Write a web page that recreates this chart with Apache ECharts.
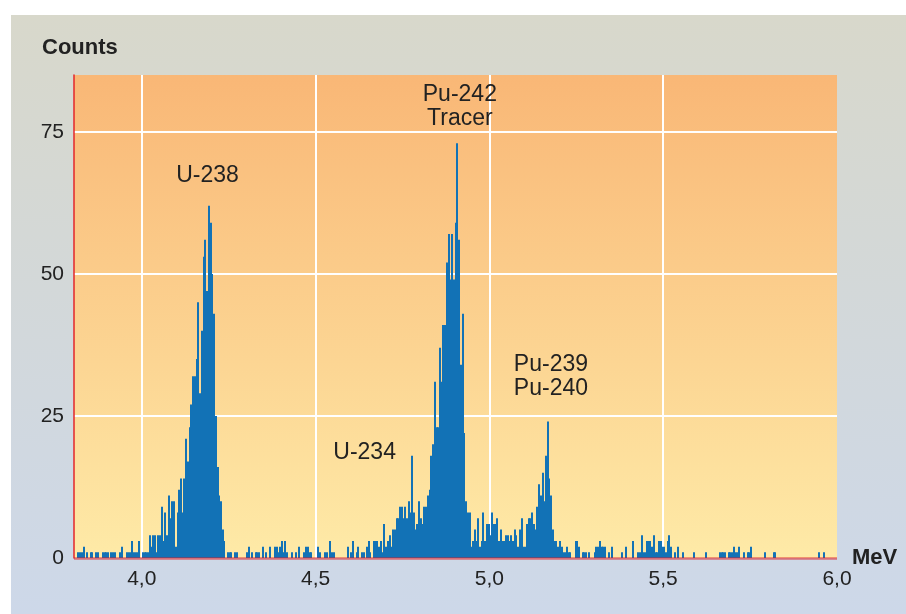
<!DOCTYPE html>
<html>
<head>
<meta charset="utf-8">
<script src="https://cdn.jsdelivr.net/npm/echarts@6/dist/echarts.min.js"></script>
<style>
  html, body { margin: 0; padding: 0; background: #ffffff; width: 906px; height: 614px; overflow: hidden; }
  #chart { position: absolute; left: 11px; top: 15px; width: 895px; height: 599px; }
</style>
</head>
<body>
<div id="chart"></div>
<script>
// ---- data ----
const binStart = 3.8;      // MeV, left edge of first channel
const binWidth = 0.005;    // MeV per channel
const counts = [
  // 3.800 - 4.000
  0,0,0,1,1,1,2,0,1,0, 1,1,0,1,1,0,0,1,1,1, 1,0,1,1,1,0,0,1,2,0, 0,1,1,1,3,1,1,1,3,0,
  // 4.000 - 4.275 (U-238)
  1,1,1,1,4,2,4,4,1,4, 4,9,3,8,4,11,7,10,10,2, 8,12,14,8,14,21,17,23,27,32,
  32,35,45,29,40,53,56,47,62,59, 50,43,25,16,11,10,5,3,0,1, 1,1,0,1,1,
  // 4.275 - 4.670
  0,0,0,0,0,1,2,0,1,0, 1,1,1,0,2,0,1,0,2,0, 0,2,2,1,2,3,1,3,1,0, 0,1,0,1,0,2,0,0,1,2,
  2,1,1,0,0,0,2,1,0,0, 1,1,0,3,1,1,0,0,0,0, 0,0,0,2,0,1,3,0,1,2, 0,1,1,0,2,3,1,0,3,
  // 4.670 - 5.000 (U-234, Pu-242)
  3,3,2,3,1,6,2,3,4,2, 5,5,7,7,9,9,7,9,7,10, 8,18,8,5,6,10,7,6,9,9,
  11,12,18,20,31,23,23,37,31,41, 41,52,57,49,57,49,59,73,56,34, 43,22,10,8,8,2,3,5,3,7,
  2,3,8,3,6,6,
  // 5.000 - 5.320 (Pu-239/240)
  4,8,6,6,7,3,5,3,3,4, 4,3,4,3,5,4,2,5,7,2, 2,6,7,7,8,6,5,9,13,11,
  15,10,18,24,14,11,5,3,3,2, 3,2,1,1,2,1,1,0,0,3, 3,2,0,1,1,1,0,1,0,0, 1,2,2,3,
  // 5.320 - 5.595
  2,2,2,0,1,0,2,0,0,0, 0,0,1,0,2,0,0,0,3,0, 0,1,1,4,1,1,3,3,3,2,
  4,1,1,3,3,2,2,1,3,4, 2,0,1,0,2,0,0,1,0,0, 0,0,0,1,0,
  // 5.595 - 6.000
  0,0,0,0,0, 1, 0,0,0,0,0,0,0,
  1,1,1,1,0,1,1,1,2,1,1,2,0,0,1,0,1,1,2,
  0,0,0,0,0,0,0, 1, 0,0,0,0, 1,1,
  0,0,0,0,0,0,0,0,0,0,0,0,0,0,0,0,0,0,0,0,0,0,0,0,
  1, 0,0, 1, 0,0,0,0,0,0,0
];

const xMin = 3.805, xMax = 6.0;
const yMin = 0, yMax = 85, yStep = 25;

const peakNames = ['U-238', 'Pu-242\nTracer', 'Pu-239\nPu-240', 'U-234'];
const peakX     = [4.189, 4.915, 5.177, 4.641];
const peakY     = [67.2, 79.5, 31.9, 18.6];

// ---- build ----
const BAR = '#1272b6';
const histData = counts.map((c, i) => [+(binStart + binWidth * (i + 0.5)).toFixed(4), c]);
const labelData = peakNames.map((t, i) => [peakX[i], peakY[i], t]);

const FONT = "'Liberation Sans', Arial, Helvetica, sans-serif";
const chart = echarts.init(document.getElementById('chart'), null, { renderer: 'canvas' });

function renderBin(params, api) {
  const x = api.value(0), c = api.value(1);
  if (!c) return null;
  const top = api.coord([x - binWidth / 2, c]);
  const bot = api.coord([x + binWidth / 2, 0]);
  const x0 = Math.round(top[0]), x1 = Math.round(bot[0]);
  const cs = params.coordSys;
  const left = Math.max(x0, cs.x);
  const right = Math.min(Math.max(x1, x0 + 2), cs.x + cs.width);
  if (right <= left) return null;
  return {
    type: 'rect',
    shape: { x: left, y: top[1], width: right - left, height: bot[1] - top[1] },
    style: { fill: BAR }
  };
}

chart.setOption({
  animation: false,
  backgroundColor: new echarts.graphic.LinearGradient(0, 0, 0, 1, [
    { offset: 0, color: '#d8d8cb' },
    { offset: 1, color: '#cdd8e9' }
  ]),
  grid: {
    left: 63, right: 69, top: 60, bottom: 56,
    containLabel: false,
    outerBoundsMode: 'none',
    show: true,
    borderWidth: 0,
    backgroundColor: new echarts.graphic.LinearGradient(0, 0, 0, 1, [
      { offset: 0, color: '#f9b776' },
      { offset: 1, color: '#feeaa7' }
    ])
  },
  xAxis: {
    type: 'value',
    min: xMin, max: xMax,
    name: 'MeV',
    nameLocation: 'end',
    nameGap: 15,
    nameTextStyle: { fontFamily: FONT, fontSize: 22, fontWeight: 'bold', color: '#222', verticalAlign: 'middle' },
    axisLine: { show: false },
    axisTick: { show: false },
    axisLabel: {
      fontFamily: FONT, fontSize: 21, color: '#222', margin: 11,
      formatter: v => (Math.abs(v * 2 - Math.round(v * 2)) < 1e-6 ? v.toFixed(1).replace('.', ',') : '')
    },
    splitLine: { show: true, showMinLine: false, showMaxLine: false, lineStyle: { color: '#ffffff', width: 2 } }
  },
  yAxis: {
    type: 'value',
    min: yMin, max: yMax, interval: yStep,
    axisLine: { show: true, lineStyle: { color: '#e3262a', width: 1.5 } },
    axisTick: { show: false },
    axisLabel: {
      fontFamily: FONT, fontSize: 21, color: '#222', margin: 10,
      formatter: v => (v % yStep === 0 ? String(v) : '')
    },
    splitLine: { show: true, showMinLine: false, showMaxLine: false, lineStyle: { color: '#ffffff', width: 2 } }
  },
  graphic: [{
    type: 'text',
    style: { x: 31, y: 33, text: 'Counts', font: 'bold 22px ' + FONT, fill: '#222', verticalAlign: 'middle', align: 'left' }
  }],
  series: [
    {
      type: 'custom',
      data: histData,
      encode: { x: 0, y: 1 },
      renderItem: renderBin,
      silent: true,
      z: 2,
      markLine: {
        silent: true,
        symbol: ['none', 'none'],
        label: { show: false },
        lineStyle: { color: 'rgba(222,24,30,0.55)', width: 2.5, type: 'solid' },
        data: [{ yAxis: 0 }]
      }
    },
    {
      type: 'scatter',
      data: labelData,
      symbolSize: 0,
      silent: true,
      z: 5,
      itemStyle: { opacity: 1 },
      label: {
        show: true,
        position: 'inside',
        formatter: p => p.data[2],
        fontFamily: FONT, fontSize: 23, lineHeight: 24, color: '#222',
        opacity: 1,
        textBorderWidth: 0, textShadowBlur: 0,
        align: 'center', verticalAlign: 'middle'
      }
    }
  ]
});
</script>
</body>
</html>
